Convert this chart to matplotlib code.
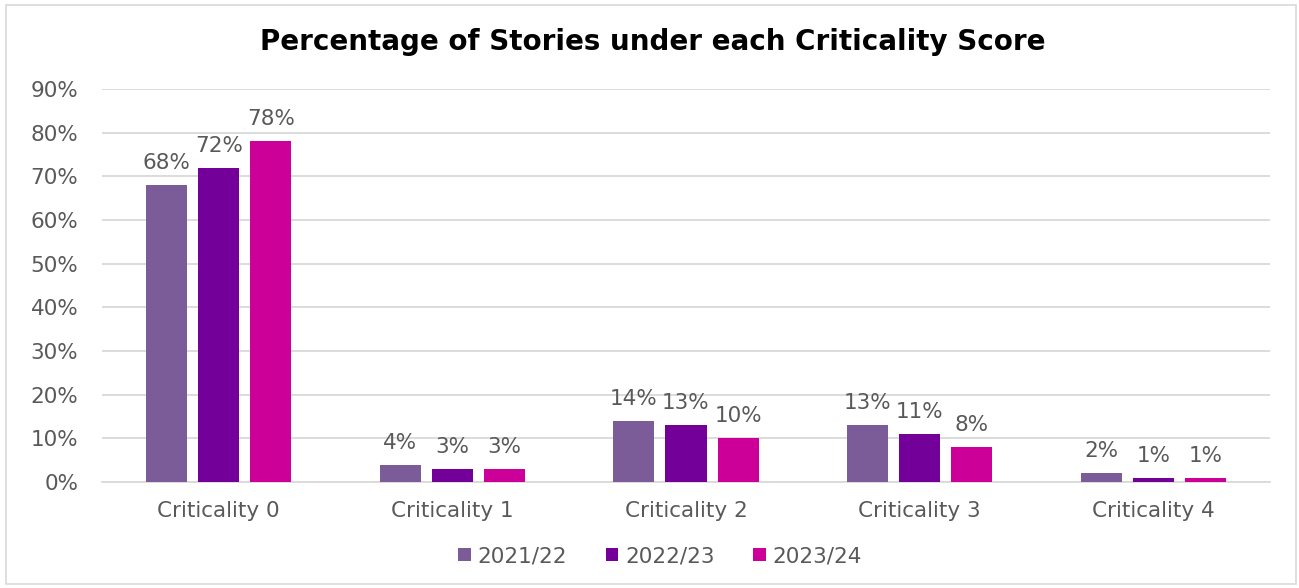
import matplotlib
matplotlib.use("Agg")
import matplotlib.pyplot as plt
import numpy as np
from matplotlib.patches import Rectangle

categories = ["Criticality 0", "Criticality 1", "Criticality 2", "Criticality 3", "Criticality 4"]
series_names = ["2021/22", "2022/23", "2023/24"]
v2021 = [68, 4, 14, 13, 2]
v2022 = [72, 3, 13, 11, 1]
v2023 = [78, 3, 10, 8, 1]
colors = ["#7B5C99", "#720099", "#CC0099"]
yticks = [0, 10, 20, 30, 40, 50, 60, 70, 80, 90]

plt.rcParams['font.family'] = ['DejaVu Sans']
fig = plt.figure(figsize=(12.99, 5.88), dpi=100)
fig.patches.append(Rectangle((6/1299, 4/588), 1290/1299, 579/588, transform=fig.transFigure,
                             fill=False, edgecolor="#D9D9D9", linewidth=1.2))
ax = fig.add_axes([102/1299, 1-482/588, 1168/1299, (482-89)/588])

x = np.arange(len(categories))
w = 0.176
off = 0.223
text_col = "#595959"
fs = 15.5
for i, (vals, c, name) in enumerate(zip([v2021, v2022, v2023], colors, series_names)):
    xs = x + (i-1)*off
    ax.bar(xs, vals, width=w, color=c, label=name, zorder=3)
    for xx, v in zip(xs, vals):
        ax.annotate(f"{v}%", (xx, v), xytext=(0, 11.5), textcoords="offset points",
                    ha="center", va="baseline", fontsize=fs, color=text_col)

ax.set_xlim(-0.5, len(categories)-0.5)
ax.set_ylim(0, 90)
ax.set_yticks(yticks)
ax.set_yticklabels([f"{t}%" for t in yticks])
ax.set_xticks(x)
ax.set_xticklabels(categories)
ax.tick_params(axis="both", length=0, labelsize=fs, colors=text_col)
ax.tick_params(axis="y", pad=17)
ax.tick_params(axis="x", pad=14)
ax.grid(axis="y", color="#D9D9D9", linewidth=1.3, zorder=0)
for s in ["top", "right", "left"]:
    ax.spines[s].set_visible(False)
ax.spines["bottom"].set_color("#D9D9D9")
ax.spines["bottom"].set_linewidth(1.3)

fig.text(653/1299, 1-42/588, "Percentage of Stories under each Criticality Score", ha="center", va="center",
         fontsize=20, fontweight="bold", color="black")
leg = fig.legend(loc="center", bbox_to_anchor=(660/1299, 1-556/588), ncol=3, frameon=False,
                 fontsize=fs, handlelength=0.6, handleheight=0.6, handletextpad=0.3, columnspacing=1.8)
for t in leg.get_texts():
    t.set_color(text_col)
fig.savefig("out.png", dpi=100)
